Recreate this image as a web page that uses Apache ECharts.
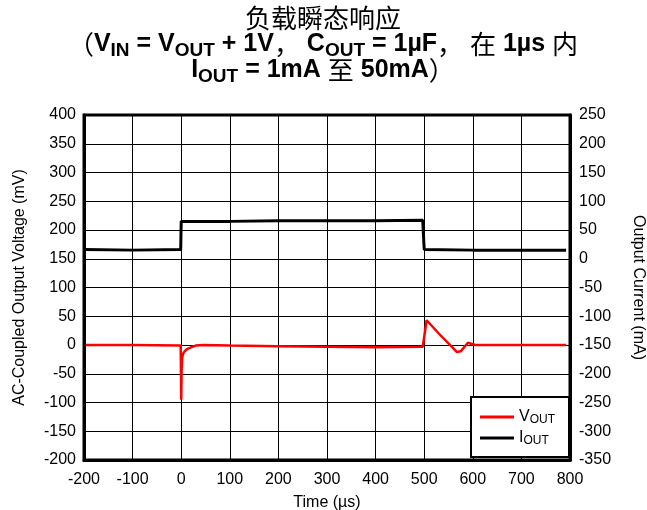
<!DOCTYPE html>
<html><head><meta charset="utf-8">
<script src="https://cdn.jsdelivr.net/npm/echarts@6/dist/echarts.min.js"></script>
<style>html,body{margin:0;padding:0;background:#fff}#c{width:647px;height:510px}</style>
</head><body><div id="c"></div>
<script>
// Time axis (µs)
var xTicks = [-200, -100, 0, 100, 200, 300, 400, 500, 600, 700, 800];
var vLeftTicks = [-200, 400];   // left axis range (mV)
var iRightTicks = [-350, 250];  // right axis range (mA)

// V_OUT (AC-coupled, mV)
var vTime = [-200, -100, -1, 0, 0.8, 2, 4, 7, 12, 20, 30, 45, 100, 200, 300, 400, 497, 505, 530, 567, 575, 590, 605, 700, 792];
var vVal  = [0, 0, -1, -95, -45, -22, -15, -11, -7, -4, -1, 0, -1, -2, -3, -4, -3, 43, 20, -12, -11, 4, 0, 0, 0];

// I_OUT (mA)
var iTime = [-200, -100, -1, 0, 100, 200, 300, 400, 497, 499, 500, 600, 700, 792];
var iVal  = [16, 15, 16, 65, 65, 66, 66, 66, 67, 67, 16, 15, 15, 15];

function pairs(t, v){ return t.map(function(x,i){return [x, v[i]];}); }

var chart = echarts.init(document.getElementById('c'), null, {renderer:'canvas'});
var latin = 'Liberation Sans, Arial, sans-serif';
var cjk = '"Noto Sans CJK SC", sans-serif';
chart.setOption({
  animation:false,
  backgroundColor:'#fff',
  title:{
    left: 318, top: 0, textAlign:'center',
    text: '{cn|负载瞬态响应}\n{cn|（}{b|V}{s|IN}{b| = V}{s|OUT}{b| + 1V}{cn|，}{b| C}{s|OUT}{b| = 1µF}{cn|，}{b| }{cn|在}{b| 1µs }{cn|内}\n{b|I}{s|OUT}{b| = 1mA }{cn|至}{b| 50mA}{cn|）}',
    textStyle:{
      rich:{
        cn:{fontFamily:cjk, fontSize:26, fontWeight:'normal', color:'#000', lineHeight:26},
        b:{fontFamily:latin, fontSize:25, fontWeight:'bold', color:'#000', lineHeight:26},
        s:{fontFamily:latin, fontSize:19, fontWeight:'bold', color:'#000', lineHeight:26, padding:[14,0,0,0]}
      }
    }
  },
  grid:{left:84, right:77, top:115, bottom:50, show:false, outerBoundsMode:'none', containLabel:false},
  legend:{
    left:471, top:397,
    orient:'vertical', padding:[12,14,10,9], itemGap:4,
    backgroundColor:'#fff', borderColor:'#000', borderWidth:2, borderRadius:0,
    itemWidth:34, itemHeight:3, icon:'rect',
    data:['VOUT','IOUT'],
    formatter:function(n){ return n==='VOUT' ? '{m|V}{s|OUT}' : '{m|I}{s|OUT}'; },
    textStyle:{
      rich:{
        m:{fontFamily:latin, fontSize:16, color:'#000'},
        s:{fontFamily:latin, fontSize:12, color:'#000', padding:[6,0,0,0]}
      }
    }
  },
  xAxis:{
    type:'value', min:xTicks[0], max:xTicks[xTicks.length-1], interval:100,
    name:'Time (µs)', nameLocation:'middle', nameGap:35,
    nameTextStyle:{fontFamily:latin, fontSize:16, color:'#000'},
    axisLine:{show:true, onZero:false, lineStyle:{color:'#000', width:3}},
    axisTick:{show:false},
    axisLabel:{fontFamily:latin, fontSize:16, color:'#000', margin:12},
    splitLine:{show:true, lineStyle:{color:'#000', width:1}}
  },
  yAxis:[{
    type:'value', min:vLeftTicks[0], max:vLeftTicks[1], interval:50,
    name:'AC-Coupled Output Voltage (mV)', nameLocation:'middle', nameGap:56,
    nameTextStyle:{fontFamily:latin, fontSize:16, color:'#000'},
    axisLine:{show:true, onZero:false, lineStyle:{color:'#000', width:3}},
    axisTick:{show:false},
    axisLabel:{fontFamily:latin, fontSize:16, color:'#000', margin:8},
    splitLine:{show:true, lineStyle:{color:'#000', width:1}}
  },{
    type:'value', min:iRightTicks[0], max:iRightTicks[1], interval:50, position:'right',
    name:'Output Current (mA)', nameLocation:'middle', nameGap:60, nameRotate:-90,
    nameTextStyle:{fontFamily:latin, fontSize:16, color:'#000'},
    axisLine:{show:true, onZero:false, lineStyle:{color:'#000', width:3}},
    axisTick:{show:false},
    axisLabel:{fontFamily:latin, fontSize:16, color:'#000', margin:9},
    splitLine:{show:false}
  }],
  graphic:[{type:'rect', shape:{x:84, y:115, width:486, height:345}, style:{fill:'none', stroke:'#000', lineWidth:3}, z:100}],
  series:[{
    name:'VOUT', type:'line', yAxisIndex:0, showSymbol:false, symbol:'none',
    data:pairs(vTime, vVal), lineStyle:{color:'#ff0000', width:2.5}, itemStyle:{color:'#ff0000'}, z:5
  },{
    name:'IOUT', type:'line', yAxisIndex:1, showSymbol:false, symbol:'none',
    data:pairs(iTime, iVal), lineStyle:{color:'#000', width:3}, itemStyle:{color:'#000'}, z:4
  }]
});
</script></body></html>
